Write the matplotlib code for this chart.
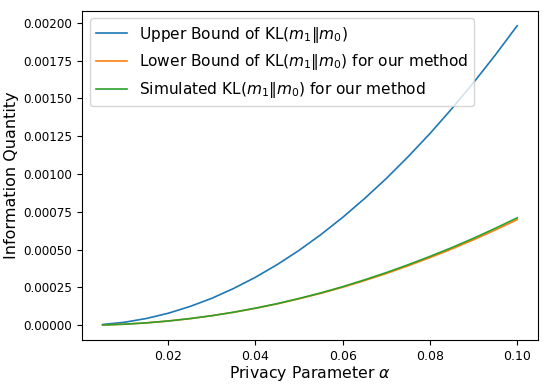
import matplotlib
matplotlib.use("Agg")
import matplotlib.pyplot as plt

# values
alpha = [0.005, 0.01, 0.015, 0.02, 0.025, 0.03, 0.035, 0.04, 0.045, 0.05,
         0.055, 0.06, 0.065, 0.07, 0.075, 0.08, 0.085, 0.09, 0.095, 0.1]
upper = [0.0000050, 0.0000198, 0.0000446, 0.0000792, 0.000124, 0.000178,
         0.000243, 0.000317, 0.000401, 0.000495, 0.000599, 0.000713,
         0.000837, 0.000970, 0.001114, 0.001267, 0.001431, 0.001604,
         0.001787, 0.001980]
lower = [0.0000017, 0.0000070, 0.0000157, 0.0000279, 0.0000436, 0.0000628,
         0.0000855, 0.000112, 0.000141, 0.000175, 0.000211, 0.000251,
         0.000295, 0.000342, 0.000393, 0.000447, 0.000504, 0.000565,
         0.000630, 0.000698]
simulated = [0.0000017, 0.0000070, 0.0000158, 0.0000281, 0.0000439, 0.0000633,
             0.0000862, 0.000113, 0.000143, 0.000177, 0.000214, 0.000255,
             0.000300, 0.000348, 0.000400, 0.000455, 0.000513, 0.000575,
             0.000641, 0.000710]

fig = plt.figure(figsize=(5.5, 3.85), dpi=100)
ax = fig.add_axes([0.149, 0.117, 0.829, 0.855])

ax.plot(alpha, upper, color="#1f77b4", lw=1.2,
        label=r"Upper Bound of KL($m_1 \| m_0$)")
ax.plot(alpha, lower, color="#ff7f0e", lw=1.2,
        label=r"Lower Bound of KL($m_1 \| m_0$) for our method")
ax.plot(alpha, simulated, color="#2ca02c", lw=1.2,
        label=r"Simulated KL($m_1 \| m_0$) for our method")

ax.set_xticks([0.02, 0.04, 0.06, 0.08, 0.10])
ax.set_yticks([0, 0.00025, 0.0005, 0.00075, 0.001, 0.00125, 0.0015, 0.00175, 0.002])
ax.set_yticklabels(["%.5f" % v for v in ax.get_yticks()])
ax.set_xticklabels(["%.2f" % v for v in ax.get_xticks()])
ax.tick_params(axis="y", labelsize=8.6)
ax.tick_params(axis="x", labelsize=9)

ax.set_xlabel(r"Privacy Parameter $\alpha$", fontsize=11.3, labelpad=1)
ax.set_ylabel("Information Quantity", fontsize=11.5, labelpad=3)
ax.legend(loc="upper left", fontsize=11.1)

fig.savefig("out.png", dpi=100)
